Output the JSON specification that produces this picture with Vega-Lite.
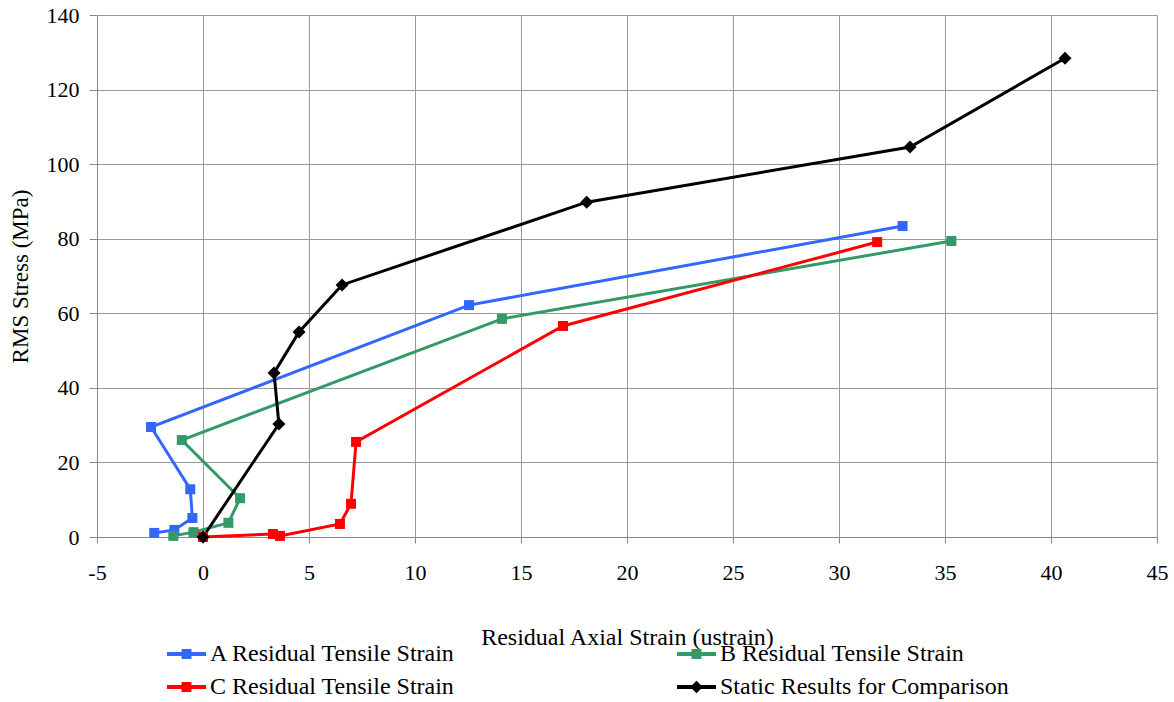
{
  "$schema": "https://vega.github.io/schema/vega-lite/v6.json",
  "width": 1060,
  "height": 522,
  "autosize": {"type": "none"},
  "padding": {"left": 97, "top": 15, "right": 17, "bottom": 165},
  "background": "white",
  "config": {
    "font": "Liberation Serif",
    "view": {"stroke": null},
    "axis": {"labelFont": "Liberation Serif", "titleFont": "Liberation Serif", "labelFontSize": 22, "titleFontSize": 23, "titleFontWeight": "normal", "labelColor": "black", "titleColor": "black", "gridColor": "#999999", "gridOpacity": 1, "domainColor": "#888888", "tickColor": "#888888"}
  },
  "data": {
    "values": [
      {"series": "A Residual Tensile Strain", "o": 1, "strain": -2.3, "stress": 1.1},
      {"series": "A Residual Tensile Strain", "o": 2, "strain": -1.35, "stress": 1.9},
      {"series": "A Residual Tensile Strain", "o": 3, "strain": -0.5, "stress": 5.1},
      {"series": "A Residual Tensile Strain", "o": 4, "strain": -0.6, "stress": 12.8},
      {"series": "A Residual Tensile Strain", "o": 5, "strain": -2.45, "stress": 29.5},
      {"series": "A Residual Tensile Strain", "o": 6, "strain": 12.55, "stress": 62.2},
      {"series": "A Residual Tensile Strain", "o": 7, "strain": 33.0, "stress": 83.4},
      {"series": "B Residual Tensile Strain", "o": 1, "strain": -1.4, "stress": 0.3},
      {"series": "B Residual Tensile Strain", "o": 2, "strain": -0.45, "stress": 1.3},
      {"series": "B Residual Tensile Strain", "o": 3, "strain": 1.2, "stress": 3.8},
      {"series": "B Residual Tensile Strain", "o": 4, "strain": 1.75, "stress": 10.4},
      {"series": "B Residual Tensile Strain", "o": 5, "strain": -1.0, "stress": 26.0},
      {"series": "B Residual Tensile Strain", "o": 6, "strain": 14.1, "stress": 58.5},
      {"series": "B Residual Tensile Strain", "o": 7, "strain": 35.3, "stress": 79.4},
      {"series": "C Residual Tensile Strain", "o": 1, "strain": 0.0, "stress": 0.0},
      {"series": "C Residual Tensile Strain", "o": 2, "strain": 3.3, "stress": 0.8},
      {"series": "C Residual Tensile Strain", "o": 3, "strain": 3.63, "stress": 0.3},
      {"series": "C Residual Tensile Strain", "o": 4, "strain": 6.46, "stress": 3.5},
      {"series": "C Residual Tensile Strain", "o": 5, "strain": 6.98, "stress": 8.9},
      {"series": "C Residual Tensile Strain", "o": 6, "strain": 7.22, "stress": 25.5},
      {"series": "C Residual Tensile Strain", "o": 7, "strain": 16.98, "stress": 56.6},
      {"series": "C Residual Tensile Strain", "o": 8, "strain": 31.8, "stress": 79.1},
      {"series": "Static Results for Comparison", "o": 1, "strain": 0.0, "stress": 0.0},
      {"series": "Static Results for Comparison", "o": 2, "strain": 3.58, "stress": 30.3},
      {"series": "Static Results for Comparison", "o": 3, "strain": 3.35, "stress": 44.0},
      {"series": "Static Results for Comparison", "o": 4, "strain": 4.53, "stress": 55.0},
      {"series": "Static Results for Comparison", "o": 5, "strain": 6.56, "stress": 67.6},
      {"series": "Static Results for Comparison", "o": 6, "strain": 18.1, "stress": 89.8},
      {"series": "Static Results for Comparison", "o": 7, "strain": 33.35, "stress": 104.6},
      {"series": "Static Results for Comparison", "o": 8, "strain": 40.66, "stress": 128.4}
    ]
  },
  "encoding": {
    "x": {
      "field": "strain", "type": "quantitative",
      "scale": {"domain": [-5, 45], "nice": false, "zero": false},
      "axis": {"title": "Residual Axial Strain (ustrain)", "titleFontSize": 24, "values": [-5, 0, 5, 10, 15, 20, 25, 30, 35, 40, 45], "labelExpr": "toString(datum.value)", "labelFont": "Liberation Serif", "titleFont": "Liberation Serif", "tickSize": 6, "labelPadding": 29, "labelBaseline": "middle", "titleBaseline": "middle", "titleY": 100, "labelFlush": false}
    },
    "y": {
      "field": "stress", "type": "quantitative",
      "scale": {"domain": [0, 140], "nice": false},
      "axis": {"title": "RMS Stress (MPa)", "values": [0, 20, 40, 60, 80, 100, 120, 140], "labelExpr": "toString(datum.value)", "labelFont": "Liberation Serif", "titleFont": "Liberation Serif", "tickSize": 8, "labelPadding": 10, "titleBaseline": "middle", "titleX": -77, "labelFlush": false}
    },
    "color": {
      "field": "series", "type": "nominal",
      "scale": {"domain": ["A Residual Tensile Strain", "B Residual Tensile Strain", "C Residual Tensile Strain", "Static Results for Comparison"], "range": ["#3366FF", "#339966", "#FF0000", "#000000"]},
      "legend": {
        "title": null, "orient": "none", "direction": "horizontal", "legendX": 74.5, "legendY": 624, "columns": 2, "columnPadding": 220, "rowPadding": 6, "padding": 0,
        "symbolSize": 900, "labelOffset": 8.5, "labelFont": "Liberation Serif", "labelFontSize": 24, "labelColor": "black", "labelLimit": 500,
        "symbolType": "M-1.3,-0.13H1.3V0.13H-1.3Z M-0.33,-0.33H0.33V0.33H-0.33Z",
        "encode": {
          "symbols": {
            "update": {
              "shape": {"signal": "datum.value === 'Static Results for Comparison' ? 'M-1.3,-0.13H1.3V0.13H-1.3Z M0,-0.42L0.42,0L0,0.42L-0.42,0Z' : 'M-1.3,-0.13H1.3V0.13H-1.3Z M-0.33,-0.33H0.33V0.33H-0.33Z'"},
              "size": {"value": 900},
              "fill": {"scale": "color", "field": "value"},
              "stroke": {"value": "transparent"},
              "strokeWidth": {"value": 0},
              "opacity": {"value": 1},
              "fillOpacity": {"value": 1}
            }
          }
        }
      }
    }
  },
  "layer": [
    {
      "mark": {"type": "line", "strokeWidth": 3},
      "encoding": {"order": {"field": "o", "type": "quantitative"}}
    },
    {
      "transform": [{"filter": "datum.series !== 'Static Results for Comparison'"}],
      "mark": {"type": "point", "filled": true, "opacity": 1, "shape": "square", "size": 100}
    },
    {
      "transform": [{"filter": "datum.series === 'Static Results for Comparison'"}],
      "mark": {"type": "point", "filled": true, "opacity": 1, "shape": "diamond", "size": 170}
    }
  ]
}
